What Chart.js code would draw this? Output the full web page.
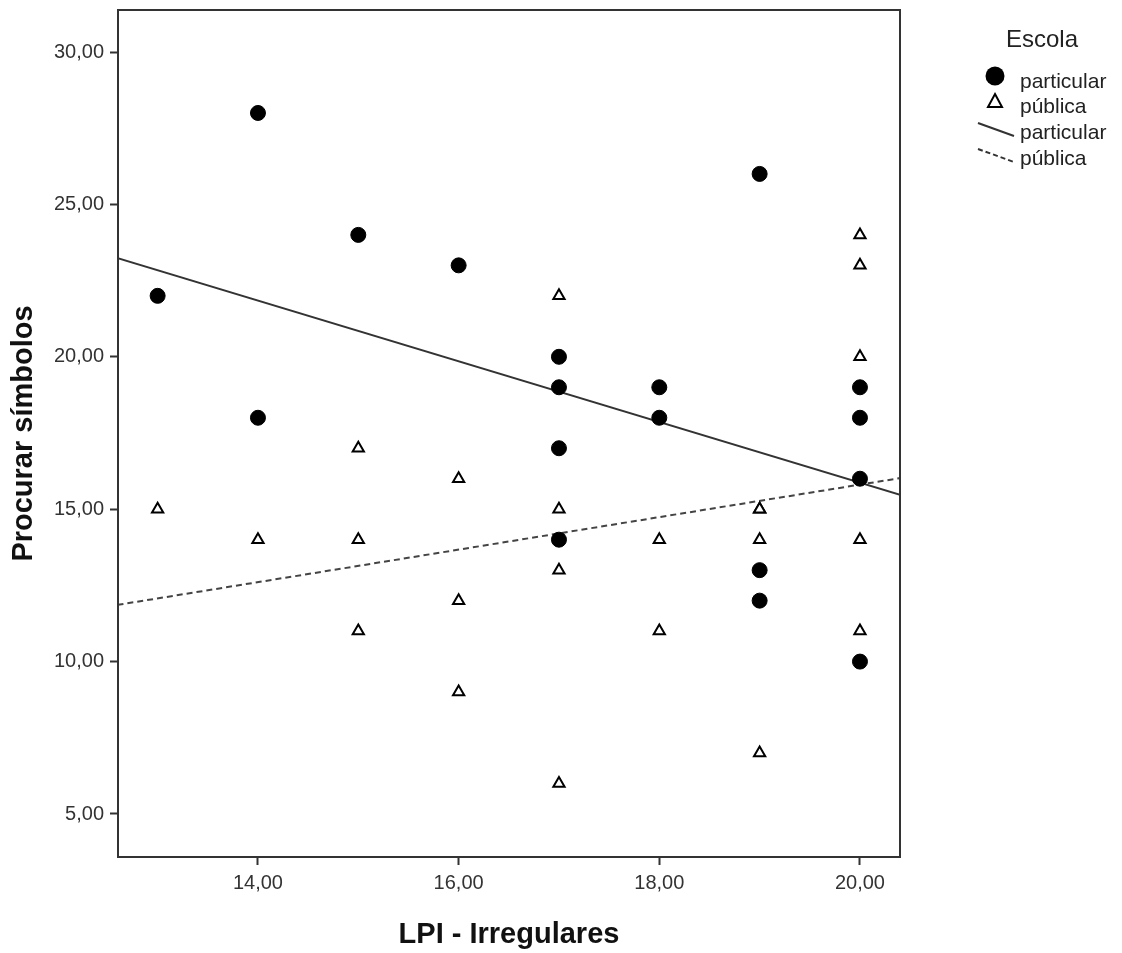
<!DOCTYPE html>
<html>
<head>
<meta charset="utf-8">
<script src="https://cdn.jsdelivr.net/npm/chart.js@4.4.0/dist/chart.umd.min.js"></script>
<style>
  html, body { margin: 0; padding: 0; background: #ffffff; }
  #wrap { width: 1122px; height: 953px; position: relative; }
</style>
</head>
<body>
<div id="wrap"><canvas id="c" width="1122" height="953"></canvas></div>
<script>
// ---- data ----
const particularX = [13, 14, 14, 15, 16, 17, 17, 17, 17, 18, 18, 19, 19, 19, 20, 20, 20, 20];
const particularY = [22, 28, 18, 24, 23, 20, 19, 17, 14, 19, 18, 26, 13, 12, 19, 18, 16, 10];
const publicaX = [13, 14, 15, 15, 15, 16, 16, 16, 17, 17, 17, 17, 18, 18, 19, 19, 19, 19, 20, 20, 20, 20, 20];
const publicaY = [15, 14, 17, 14, 11, 16, 12, 9, 22, 15, 13, 6, 14, 11, 15, 15, 14, 7, 24, 23, 20, 14, 11];
// fit lines: end points read at the plot edges
const fitX = [12.6, 20.4];
const fitParticularY = [23.24, 15.47];
const fitPublicaY = [11.86, 16.02];
const xTicks = [14, 16, 18, 20];
const yTicks = [5, 10, 15, 20, 25, 30];
const xRange = [12.605, 20.399];
const yRange = [3.589, 31.378];
const legendTitle = 'Escola';
const seriesNames = ['particular', 'pública'];
const xTitle = 'LPI - Irregulares';
const yTitle = 'Procurar símbolos';

const FONT = "'Liberation Sans', Arial, sans-serif";
const fmt = v => Number(v).toFixed(2).replace('.', ',');
const pts = (xs, ys) => xs.map((x, i) => ({ x: x, y: ys[i] }));

const framePlugin = {
  id: 'frame',
  afterDraw(chart) {
    const { ctx, chartArea: a } = chart;
    ctx.save();
    ctx.strokeStyle = '#333';
    ctx.lineWidth = 2;
    ctx.strokeRect(a.left, a.top, a.right - a.left, a.bottom - a.top);
    ctx.restore();
  }
};

const legendPlugin = {
  id: 'customLegend',
  afterDraw(chart) {
    const ctx = chart.ctx;
    ctx.save();
    ctx.fillStyle = '#222';
    ctx.textBaseline = 'alphabetic';
    ctx.textAlign = 'center';
    ctx.font = "24px " + FONT;
    ctx.fillText(legendTitle, 1042, 47);
    ctx.textAlign = 'left';
    ctx.font = "21px " + FONT;
    const tx = 1020;
    // filled circle
    ctx.fillStyle = '#000';
    ctx.beginPath(); ctx.arc(995, 76, 9.5, 0, Math.PI * 2); ctx.fill();
    ctx.fillStyle = '#222';
    ctx.fillText(seriesNames[0], tx, 88);
    // triangle
    ctx.strokeStyle = '#000'; ctx.lineWidth = 2; ctx.fillStyle = '#fff';
    ctx.beginPath(); ctx.moveTo(995, 94); ctx.lineTo(1002, 107); ctx.lineTo(988, 107); ctx.closePath();
    ctx.fill(); ctx.stroke();
    ctx.fillStyle = '#222';
    ctx.fillText(seriesNames[1], tx, 113);
    // solid line
    ctx.strokeStyle = '#333'; ctx.lineWidth = 2;
    ctx.beginPath(); ctx.moveTo(978, 123); ctx.lineTo(1014, 136); ctx.stroke();
    ctx.fillText(seriesNames[0], tx, 139);
    // dashed line
    ctx.setLineDash([5, 3]);
    ctx.beginPath(); ctx.moveTo(978, 149); ctx.lineTo(1014, 162); ctx.stroke();
    ctx.setLineDash([]);
    ctx.fillText(seriesNames[1], tx, 165);
    ctx.restore();
  }
};

new Chart(document.getElementById('c'), {
  type: 'scatter',
  data: {
    datasets: [
      {
        label: seriesNames[0],
        data: pts(particularX, particularY),
        pointStyle: 'circle', pointRadius: 7.5, pointBorderWidth: 1,
        backgroundColor: '#000', borderColor: '#000', showLine: false
      },
      {
        label: seriesNames[1],
        data: pts(publicaX, publicaY),
        pointStyle: 'triangle', pointRadius: 6.5, pointBorderWidth: 2,
        backgroundColor: '#fff', borderColor: '#000', showLine: false
      },
      {
        type: 'line', label: seriesNames[0] + ' fit',
        data: pts(fitX, fitParticularY),
        borderColor: '#333', borderWidth: 2, pointRadius: 0, fill: false
      },
      {
        type: 'line', label: seriesNames[1] + ' fit',
        data: pts(fitX, fitPublicaY),
        borderColor: '#444', borderWidth: 2, borderDash: [6, 4], pointRadius: 0, fill: false
      }
    ]
  },
  options: {
    responsive: false,
    animation: false,
    devicePixelRatio: 1,
    layout: { padding: { top: 10, right: 222, left: 0, bottom: 0 } },
    plugins: { legend: { display: false }, tooltip: { enabled: false } },
    scales: {
      x: {
        type: 'linear', min: xRange[0], max: xRange[1],
        afterBuildTicks: s => { s.ticks = xTicks.map(v => ({ value: v })); },
        afterFit: s => { s.height = 96; s.paddingLeft = 0; s.paddingRight = 0; },
        ticks: { callback: v => fmt(v), color: '#333', font: { family: FONT, size: 20 }, padding: 6, maxRotation: 0 },
        grid: { drawOnChartArea: false, drawTicks: true, tickLength: 8, tickWidth: 2, tickColor: '#333' },
        border: { display: true, color: '#333', width: 2 },
        title: { display: true, text: xTitle, color: '#111', font: { family: FONT, size: 29, weight: 'bold' }, padding: { top: 0, bottom: 1 } }
      },
      y: {
        type: 'linear', min: yRange[0], max: yRange[1],
        afterBuildTicks: s => { s.ticks = yTicks.map(v => ({ value: v })); },
        afterFit: s => { s.width = 118; s.paddingTop = 0; s.paddingBottom = 0; },
        ticks: { callback: v => fmt(v), color: '#333', font: { family: FONT, size: 20 }, padding: 6 },
        grid: { drawOnChartArea: false, drawTicks: true, tickLength: 8, tickWidth: 2, tickColor: '#333' },
        border: { display: true, color: '#333', width: 2 },
        title: { display: true, text: yTitle, color: '#111', font: { family: FONT, size: 29, weight: 'bold' }, padding: { top: 7, bottom: 0 } }
      }
    }
  },
  plugins: [framePlugin, legendPlugin]
});
</script>
</body>
</html>
